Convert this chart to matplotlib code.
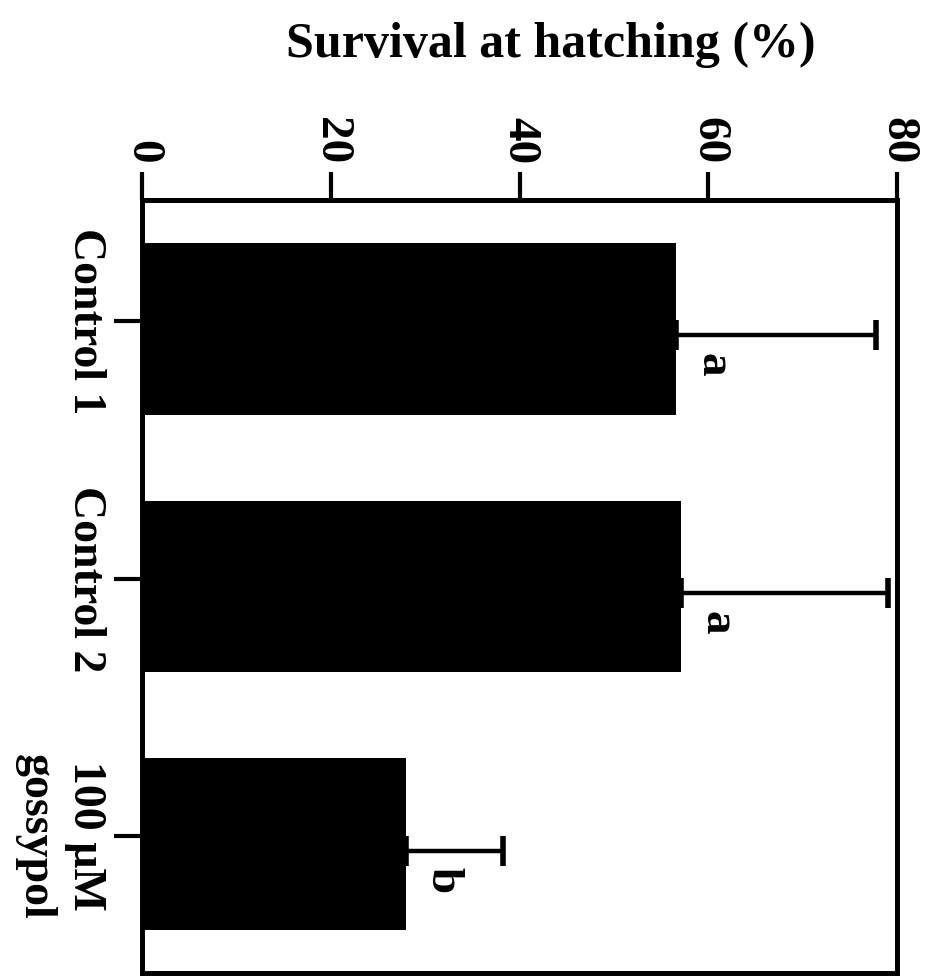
# survival at hatching, bars drawn sideways with rotated labels

import matplotlib
matplotlib.use('Agg')
import matplotlib.pyplot as plt
import numpy as np

groups = ['Control 1', 'Control 2', '100 \u00b5M\ngossypol']
survival = [56.6, 57.1, 28.0]
errors = [21.2, 21.9, 10.3]
letters = ['a', 'a', 'b']
ticks = [0, 20, 40, 60, 80]

plt.rcParams['font.family'] = ['Liberation Serif', 'DejaVu Serif']
plt.rcParams['font.weight'] = 'bold'

fig = plt.figure(figsize=(9.34, 9.76), dpi=100)
ax = fig.add_axes([142 / 934., 3 / 976., 755 / 934., 773 / 976.])

pos = np.arange(len(groups))
ax.barh(pos, survival, height=0.665, color='black', zorder=2)
ax.errorbar(survival, pos + 0.025, xerr=[np.zeros(len(errors)), errors],
            fmt='none', ecolor='black', elinewidth=3.2, capsize=10.8,
            capthick=4, zorder=3)

for p, v, l in zip(pos, survival, letters):
    ax.text(v + 3.8, p + 0.14, l, rotation=-90, ha='center', va='center',
            fontsize=34, fontweight='bold')

ax.set_xlim(0, 80)
ax.set_ylim(2.5, -0.5)

ax.xaxis.tick_top()
ax.set_xticks(ticks)
ax.set_xticklabels([str(t) for t in ticks], rotation=-90, fontsize=34,
                   fontweight='bold')
ax.set_yticks(pos - 0.03)
ax.set_yticklabels(groups, rotation=-90, fontsize=33, fontweight='bold',
                   va='center', multialignment='center', linespacing=1.25)

ax.tick_params(axis='x', direction='out', length=20, width=3, pad=6)
ax.tick_params(axis='y', direction='out', length=20, width=3, pad=6)
for s in ax.spines.values():
    s.set_linewidth(3.6)

fig.text(551 / 934., 1 - 45 / 976., 'Survival at hatching (%)', ha='center',
         va='center', fontsize=36, fontweight='bold')

plt.savefig('out.png', dpi=100)
plt.close()
